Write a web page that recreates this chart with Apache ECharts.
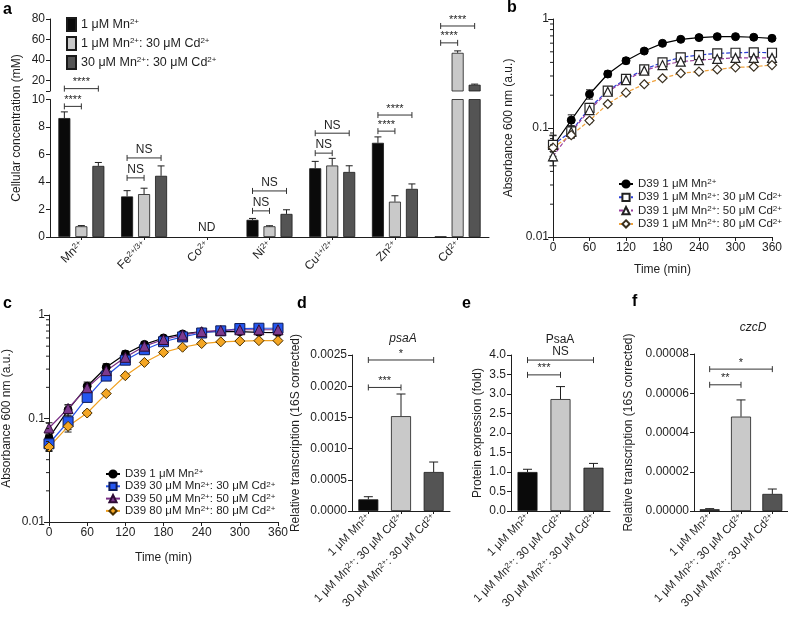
<!DOCTYPE html>
<html>
<head>
<meta charset="utf-8">
<script src="https://cdn.jsdelivr.net/npm/echarts@6/dist/echarts.min.js"></script>
<style>
  html, body { margin: 0; padding: 0; background: #fff; }
  #main { width: 788px; height: 617px; }
</style>
</head>
<body>
<div id="main"></div>
<script>
// ---------- panel a : cellular metal content ----------
var aCats = ['Mn2+', 'Fe2+/3+', 'Co2+', 'Ni2+', 'Cu1+/2+', 'Zn2+', 'Cd2+'];
var aNames = ['1 μM Mn2+', '1 μM Mn2+: 30 μM Cd2+', '30 μM Mn2+: 30 μM Cd2+'];
var aMn1 = [8.65, 2.95, null, 1.25, 5.0, 6.85, 0.03];
var aMn1Cd = [0.78, 3.12, null, 0.78, 5.2, 2.57, 47.1];
var aMn30Cd = [5.17, 4.45, null, 1.68, 4.73, 3.5, 16.1];
var aMn1Sd = [0.45, 0.42, null, 0.1, 0.5, 0.43, 0];
var aMn1CdSd = [0.05, 0.43, null, 0.04, 0.52, 0.43, 1.9];
var aMn30CdSd = [0.25, 0.72, null, 0.3, 0.45, 0.36, 0.6];
var aLowTicks = [0, 10, 2];
var aHighLabels = [20, 40, 60, 80];
// [category, from bar, to bar, height, text]
var aSigLow = [[0, 0, 1, 9.5, '****'], [1, 0, 1, 4.3, 'NS'], [1, 0, 2, 5.75, 'NS'],
  [3, 0, 1, 1.9, 'NS'], [3, 0, 2, 3.35, 'NS'], [4, 0, 1, 6.1, 'NS'], [4, 0, 2, 7.55, 'NS'],
  [5, 0, 1, 7.7, '****'], [5, 0, 2, 8.87, '****']];
var aSigHigh = [[0, 0, 2, 12.3, '****'], [6, 0, 1, 56.8, '****'], [6, 0, 2, 73.2, '****']];
var aNotes = [[2, 0.65, 'ND']];

// ---------- panels b, c : growth curves ----------
var times = [0, 30, 60, 90, 120, 150, 180, 210, 240, 270, 300, 330, 360];
var bLabels = ['D39 1 μM Mn2+', 'D39 1 μM Mn2+: 30 μM Cd2+', 'D39 1 μM Mn2+: 50 μM Cd2+', 'D39 1 μM Mn2+: 80 μM Cd2+'];
var bMn = [0.068, 0.118, 0.204, 0.313, 0.414, 0.508, 0.598, 0.651, 0.675, 0.689, 0.689, 0.68, 0.665];
var bCd30 = [0.07, 0.093, 0.153, 0.22, 0.282, 0.345, 0.40, 0.445, 0.467, 0.484, 0.49, 0.495, 0.49];
var bCd50 = [0.055, 0.092, 0.146, 0.215, 0.275, 0.336, 0.378, 0.406, 0.42, 0.43, 0.44, 0.44, 0.44];
var bCd80 = [0.066, 0.086, 0.117, 0.166, 0.211, 0.252, 0.286, 0.318, 0.329, 0.345, 0.36, 0.365, 0.378];
var bMnSd = [0.018, 0.014, 0.02, 0.02, 0.025, 0.025, 0.02, 0.02, 0.02, 0.02, 0.02, 0.02, 0.02];
var bCd30Sd = [0.015, 0.012, 0.015, 0.015, 0.015, 0.015, 0.015, 0.015, 0.015, 0.015, 0.015, 0.015, 0.015];
var bCd50Sd = [0.01, 0.01, 0.01, 0.01, 0.01, 0.01, 0.01, 0.01, 0.01, 0.01, 0.01, 0.01, 0.01];
var bCd80Sd = [0.005, 0.005, 0.005, 0.005, 0.005, 0.005, 0.005, 0.005, 0.005, 0.005, 0.005, 0.005, 0.005];

var cLabels = ['D39 1 μM Mn2+', 'D39 30 μM Mn2+: 30 μM Cd2+', 'D39 50 μM Mn2+: 50 μM Cd2+', 'D39 80 μM Mn2+: 80 μM Cd2+'];
var cMn = [0.065, 0.121, 0.205, 0.313, 0.42, 0.52, 0.60, 0.656, 0.69, 0.69, 0.69, 0.68, 0.676];
var cCd30 = [0.057, 0.093, 0.16, 0.257, 0.366, 0.462, 0.552, 0.614, 0.67, 0.703, 0.74, 0.745, 0.745];
var cCd50 = [0.081, 0.125, 0.198, 0.29, 0.39, 0.5, 0.58, 0.64, 0.69, 0.71, 0.72, 0.72, 0.72];
var cCd80 = [0.053, 0.084, 0.113, 0.174, 0.259, 0.348, 0.435, 0.488, 0.53, 0.55, 0.56, 0.565, 0.565];
var cMnSd = [0.005, 0.015, 0.02, 0.025, 0.03, 0.03, 0.02, 0.02, 0.02, 0.02, 0.02, 0.02, 0.02];
var cCd30Sd = [0.008, 0.015, 0.015, 0.02, 0.02, 0.02, 0.02, 0.02, 0.02, 0.02, 0.02, 0.02, 0.02];
var cCd50Sd = [0.01, 0.01, 0.01, 0.01, 0.01, 0.01, 0.01, 0.01, 0.01, 0.01, 0.01, 0.01, 0.01];
var cCd80Sd = [0.005, 0.01, 0.005, 0.005, 0.005, 0.005, 0.005, 0.005, 0.005, 0.005, 0.005, 0.005, 0.005];
var logMinor = [0.02, 0.03, 0.04, 0.05, 0.06, 0.07, 0.08, 0.09, 0.2, 0.3, 0.4, 0.5, 0.6, 0.7, 0.8, 0.9];

// ---------- panels d, e, f : expression ----------
var defCats = ['1 μM Mn2+', '1 μM Mn2+: 30 μM Cd2+', '30 μM Mn2+: 30 μM Cd2+'];
var dPsaA = [0.000187, 0.00152, 0.000625];
var dPsaASd = [0.000042, 0.000355, 0.00016];
var dSig = [[0, 1, 0.00198, '***'], [0, 2, 0.00242, '*']];
var ePsaA = [1.0, 2.87, 1.11];
var ePsaASd = [0.07, 0.32, 0.11];
var eSig = [[0, 1, 3.49, '***'], [0, 2, 3.87, 'NS']];
var fCzcD = [0.0000009, 0.0000481, 0.0000087];
var fCzcDSd = [0.0000003, 0.0000085, 0.0000025];
var fSig = [[0, 1, 0.0000643, '**'], [0, 2, 0.0000723, '*']];

var FONT = "'Liberation Sans', Arial, Helvetica, sans-serif";
var INK = '#1e1e1e';
var barColors = ['#0a0a0a', '#c9c9c9', '#545454'];
var BW = 12, BG = 5;

function supRich(lh) { return { s: { fontSize: 8, verticalAlign: 'top', lineHeight: lh, fontFamily: FONT, color: INK } }; }
function supText(t) { return String(t).replace(/(\d\+(?:\/\d\+)?)/g, '{s|$1}'); }
function aOff(k) { return (k - 1) * (BW + BG); }

function lineSt() { return { show: true, lineStyle: { color: INK, width: 1 } }; }
function tickSt(len, extra) { return Object.assign({ show: true, length: len, lineStyle: { color: INK, width: 1 } }, extra || {}); }
function labelSt(extra) { return Object.assign({ color: INK, fontSize: 12, fontFamily: FONT }, extra || {}); }
var nameSt = { color: INK, fontSize: 12, fontFamily: FONT };

// vertical error bars; offFn shifts grouped bars
function errRender(offFn, both, cap) {
  return function (params, api) {
    var x = api.value(0), m = api.value(1), sd = api.value(2), k = api.value(3);
    if (!(sd > 0) || m == null || isNaN(m)) return;
    var top = api.coord([x, m + sd]);
    var bot = api.coord([x, both ? m - sd : m]);
    var px = top[0] + (offFn ? offFn(k) : 0);
    var st = { stroke: INK, lineWidth: 1 };
    var kids = [
      { type: 'line', shape: { x1: px, y1: bot[1], x2: px, y2: top[1] }, style: st },
      { type: 'line', shape: { x1: px - cap, y1: top[1], x2: px + cap, y2: top[1] }, style: st }
    ];
    if (both) kids.push({ type: 'line', shape: { x1: px - cap, y1: bot[1], x2: px + cap, y2: bot[1] }, style: st });
    return { type: 'group', children: kids };
  };
}

// significance bracket between two bars
function sigRender(rows, offFn) {
  return function (params, api) {
    var r = rows[params.dataIndex];
    var p1 = api.coord([r.c1, r.h]), p2 = api.coord([r.c2, r.h]);
    var x1 = p1[0] + offFn(r.b1), x2 = p2[0] + offFn(r.b2), y = p1[1];
    var st = { stroke: '#333', lineWidth: 1 };
    var star = r.text.indexOf('*') >= 0;
    return {
      type: 'group', children: [
        { type: 'line', shape: { x1: x1, y1: y, x2: x2, y2: y }, style: st },
        { type: 'line', shape: { x1: x1, y1: y - 3, x2: x1, y2: y + 3 }, style: st },
        { type: 'line', shape: { x1: x2, y1: y - 3, x2: x2, y2: y + 3 }, style: st },
        { type: 'text', x: (x1 + x2) / 2, y: y - (star ? 1 : 2), style: {
          text: r.text, align: 'center', verticalAlign: 'bottom',
          fontSize: star ? 11 : 12, fontFamily: FONT, fill: INK } }
      ]
    };
  };
}
function zero() { return 0; }

function aSigSeries(src, xi, yi) {
  var rows = src.map(function (s) { return { c1: s[0], c2: s[0], b1: s[1], b2: s[2], h: s[3], text: s[4] }; });
  return { type: 'custom', xAxisIndex: xi, yAxisIndex: yi, clip: false, z: 5, encode: { x: 0, y: 1 },
    renderItem: sigRender(rows, aOff), data: src.map(function (s) { return [s[0], s[3]]; }) };
}
function defSigSeries(src, idx) {
  var rows = src.map(function (s) { return { c1: s[0], c2: s[1], b1: 0, b2: 0, h: s[2], text: s[3] }; });
  return { type: 'custom', xAxisIndex: idx, yAxisIndex: idx, clip: false, z: 5, encode: { x: 0, y: 1 },
    renderItem: sigRender(rows, zero), data: src.map(function (s) { return [s[0], s[2]]; }) };
}

var aVals = [aMn1, aMn1Cd, aMn30Cd];
var aSds = [aMn1Sd, aMn1CdSd, aMn30CdSd];
var aErrData = [];
aVals.forEach(function (arr, k) {
  arr.forEach(function (v, i) { if (v != null) aErrData.push([i, v, aSds[k][i], k]); });
});

var series = [];
// panel a bars, lower and upper part of the broken axis
[0, 1].forEach(function (g) {
  aVals.forEach(function (arr, k) {
    series.push({
      type: 'bar', name: g === 0 ? 'a' + k : 'aU' + k, xAxisIndex: g, yAxisIndex: g,
      data: arr, barWidth: BW, barGap: (BG / BW * 100) + '%', clip: true,
      itemStyle: { color: barColors[k], borderColor: '#1a1a1a', borderWidth: 0.8 }
    });
  });
  series.push({ type: 'custom', xAxisIndex: g, yAxisIndex: g, clip: true, z: 4,
    encode: { x: 0, y: 1 }, renderItem: errRender(aOff, false, 3.5), data: aErrData });
});
series.push(aSigSeries(aSigLow, 0, 0));
series.push(aSigSeries(aSigHigh, 1, 1));
series.push({ type: 'custom', xAxisIndex: 0, yAxisIndex: 0, clip: false, encode: { x: 0, y: 1 },
  data: aNotes.map(function (n) { return [n[0], n[1]]; }),
  renderItem: function (params, api) {
    var p = api.coord([api.value(0), api.value(1)]);
    return { type: 'text', x: p[0], y: p[1], style: { text: aNotes[params.dataIndex][2],
      align: 'center', verticalAlign: 'middle', fontSize: 12, fontFamily: FONT, fill: INK } };
  } });

// growth curves
function growth(prefix, idx, sets) {
  sets.forEach(function (s, k) {
    series.push({
      type: 'custom', xAxisIndex: idx, yAxisIndex: idx, clip: false, z: 1,
      encode: { x: 0, y: 1 }, renderItem: errRender(null, true, 3.5),
      data: times.map(function (t, i) { return [t, s.v[i], s.sd[i]]; })
    });
    series.push({
      type: 'line', name: prefix + k, xAxisIndex: idx, yAxisIndex: idx, z: 3,
      data: times.map(function (t, i) { return [t, s.v[i]]; }),
      symbol: s.sym, symbolSize: s.size, showAllSymbol: true,
      lineStyle: { color: s.line, width: 1.2, type: s.dash ? [4, 2] : 'solid' },
      itemStyle: { color: s.fill, borderColor: s.border, borderWidth: s.bw }
    });
  });
  // minor ticks of the log axis
  series.push({
    type: 'custom', xAxisIndex: idx, yAxisIndex: idx, clip: false, z: 6, encode: { x: 0, y: 1 },
    data: logMinor.map(function (v) { return [0, v]; }),
    renderItem: function (params, api) {
      var p = api.coord([api.value(0), api.value(1)]);
      return { type: 'line', shape: { x1: p[0] - 3, y1: p[1], x2: p[0], y2: p[1] }, style: { stroke: INK, lineWidth: 1 } };
    }
  });
}
growth('b', 2, [
  { v: bMn, sd: bMnSd, sym: 'circle', size: 8, line: '#000', fill: '#000', border: '#000', bw: 1, dash: false },
  { v: bCd30, sd: bCd30Sd, sym: 'rect', size: 9, line: '#2b3fd6', fill: '#fff', border: '#222', bw: 1.2, dash: true },
  { v: bCd50, sd: bCd50Sd, sym: 'triangle', size: 9, line: '#9a3e9e', fill: '#fff', border: '#222', bw: 1.2, dash: true },
  { v: bCd80, sd: bCd80Sd, sym: 'diamond', size: 9, line: '#f0a23c', fill: '#fff', border: '#3a3020', bw: 1.2, dash: true }
]);
growth('c', 3, [
  { v: cMn, sd: cMnSd, sym: 'circle', size: 8, line: '#000', fill: '#000', border: '#000', bw: 1, dash: false },
  { v: cCd30, sd: cCd30Sd, sym: 'rect', size: 10, line: '#2452e6', fill: '#2457f0', border: '#0d1a55', bw: 1, dash: false },
  { v: cCd50, sd: cCd50Sd, sym: 'triangle', size: 10, line: '#7a2f86', fill: '#7d3a8e', border: '#2e0c36', bw: 1, dash: false },
  { v: cCd80, sd: cCd80Sd, sym: 'diamond', size: 10, line: '#f0a020', fill: '#f4a623', border: '#4a3000', bw: 1, dash: false }
]);

// d, e, f bars
[[4, dPsaA, dPsaASd, dSig], [5, ePsaA, ePsaASd, eSig], [6, fCzcD, fCzcDSd, fSig]].forEach(function (p) {
  var idx = p[0];
  series.push({
    type: 'bar', xAxisIndex: idx, yAxisIndex: idx, data: p[1], barWidth: 20,
    itemStyle: { color: function (q) { return barColors[q.dataIndex]; }, borderColor: '#1a1a1a', borderWidth: 0.8 }
  });
  series.push({ type: 'custom', xAxisIndex: idx, yAxisIndex: idx, clip: false, z: 4,
    encode: { x: 0, y: 1 }, renderItem: errRender(null, false, 4.5),
    data: p[1].map(function (v, i) { return [i, v, p[2][i]]; }) });
  series.push(defSigSeries(p[3], idx));
});

function catAxis(grid, data, extra) {
  return Object.assign({
    type: 'category', gridIndex: grid, data: data,
    axisLine: lineSt(), axisTick: tickSt(3, { alignWithLabel: true }),
    axisLabel: labelSt({ rotate: 45, margin: 5, formatter: supText, rich: supRich(12) }),
    splitLine: { show: false }
  }, extra || {});
}
function timeAxis(grid, gap) {
  return { type: 'value', gridIndex: grid, min: 0, max: 360, interval: 60,
    name: 'Time (min)', nameLocation: 'middle', nameGap: gap, nameTextStyle: nameSt,
    axisLine: lineSt(), axisTick: tickSt(4), axisLabel: labelSt({ margin: 5 }), splitLine: { show: false } };
}
function valAxis(grid, o) {
  return Object.assign({ type: 'value', gridIndex: grid, axisLine: lineSt(), axisTick: tickSt(4),
    splitLine: { show: false }, nameLocation: 'middle', nameTextStyle: nameSt }, o);
}
function logAxis(grid, gap) {
  return valAxis(grid, { type: 'log', logBase: 10, min: 0.01, max: 1, name: 'Absorbance 600 nm (a.u.)', nameGap: gap,
    axisTick: tickSt(5), axisLabel: labelSt({ margin: 4 }) });
}
function defLabel() {
  return labelSt({ rotate: 45, margin: 5, fontSize: 11.5, formatter: supText, rich: supRich(12) });
}

function legendText(fs, lh) {
  return { color: INK, fontSize: fs, lineHeight: lh, fontFamily: FONT, rich: supRich(lh) };
}
function legendFmt(labels) {
  return function (name) { return supText(labels[+name.slice(1)]); };
}

var option = {
  animation: false,
  backgroundColor: '#fff',
  grid: [
    { left: 50, top: 99.5, width: 439, height: 137.5 },
    { left: 50, top: 19, width: 439, height: 72 },
    { left: 553, top: 19, width: 219, height: 218 },
    { left: 49, top: 315, width: 229, height: 207 },
    { left: 352, top: 355, width: 98, height: 156 },
    { left: 511, top: 355, width: 99, height: 156 },
    { left: 694, top: 354, width: 94, height: 157 }
  ].map(function (g) { g.outerBoundsMode = 'none'; g.containLabel = false; return g; }),
  xAxis: [
    catAxis(0, aCats, { axisLabel: labelSt({ rotate: 45, margin: 6, formatter: supText, rich: supRich(12) }) }),
    catAxis(1, aCats, { show: false }),
    timeAxis(2, 27),
    timeAxis(3, 30),
    catAxis(4, defCats, { axisLabel: defLabel() }),
    catAxis(5, defCats, { axisLabel: defLabel() }),
    catAxis(6, defCats, { axisLabel: defLabel() })
  ],
  yAxis: [
    valAxis(0, { min: aLowTicks[0], max: aLowTicks[1], interval: aLowTicks[2], axisLabel: labelSt({ margin: 5 }) }),
    valAxis(1, { min: 10, max: 80, axisLabel: labelSt({ margin: 5, customValues: aHighLabels }),
      axisTick: tickSt(4, { customValues: [10].concat(aHighLabels) }) }),
    logAxis(2, 38),
    logAxis(3, 36),
    valAxis(4, { min: 0, max: 0.0025, interval: 0.0005, name: 'Relative transcription (16S corrected)', nameGap: 50,
      axisLabel: labelSt({ margin: 5, formatter: function (v) { return v.toFixed(4); } }) }),
    valAxis(5, { min: 0, max: 4, interval: 0.5, name: 'Protein expression (fold)', nameGap: 27,
      axisLabel: labelSt({ margin: 5, formatter: function (v) { return v.toFixed(1); } }) }),
    valAxis(6, { min: 0, max: 0.00008, interval: 0.00002, name: 'Relative transcription (16S corrected)', nameGap: 59,
      axisLabel: labelSt({ margin: 5, formatter: function (v) { return v.toFixed(5); } }) })
  ],
  legend: [
    { data: ['a0', 'a1', 'a2'], left: 61, top: 12, orient: 'vertical', itemWidth: 9, itemHeight: 13, itemGap: 4,
      icon: 'rect', selectedMode: false, formatter: legendFmt(aNames), textStyle: legendText(12.5, 13) },
    { data: ['b0', 'b1', 'b2', 'b3'], left: 613, top: 173, orient: 'vertical', itemWidth: 14, itemHeight: 9, itemGap: 1.3,
      selectedMode: false, formatter: legendFmt(bLabels), textStyle: legendText(11.5, 12) },
    { data: ['c0', 'c1', 'c2', 'c3'], left: 100, top: 463, orient: 'vertical', itemWidth: 14, itemHeight: 9, itemGap: 0.3,
      selectedMode: false, formatter: legendFmt(cLabels), textStyle: legendText(11.5, 12) }
  ],
  graphic: [
    { type: 'text', x: 3, y: 2, style: { text: 'a', font: 'bold 16px ' + FONT, fill: '#000' } },
    { type: 'text', x: 507, y: 0, style: { text: 'b', font: 'bold 16px ' + FONT, fill: '#000' } },
    { type: 'text', x: 3, y: 296, style: { text: 'c', font: 'bold 16px ' + FONT, fill: '#000' } },
    { type: 'text', x: 297, y: 296, style: { text: 'd', font: 'bold 16px ' + FONT, fill: '#000' } },
    { type: 'text', x: 462, y: 296, style: { text: 'e', font: 'bold 16px ' + FONT, fill: '#000' } },
    { type: 'text', x: 632, y: 294, style: { text: 'f', font: 'bold 16px ' + FONT, fill: '#000' } },
    { type: 'text', x: 403, y: 339, style: { text: 'psaA', font: 'italic 12px ' + FONT, fill: INK, align: 'center', verticalAlign: 'middle' } },
    { type: 'text', x: 560, y: 340, style: { text: 'PsaA', font: '12px ' + FONT, fill: INK, align: 'center', verticalAlign: 'middle' } },
    { type: 'text', x: 753, y: 328, style: { text: 'czcD', font: 'italic 12px ' + FONT, fill: INK, align: 'center', verticalAlign: 'middle' } },
    { type: 'text', x: 17, y: 128, rotation: Math.PI / 2,
      style: { text: 'Cellular concentration (mM)', font: '12px ' + FONT, fill: INK, align: 'center', verticalAlign: 'middle' } }
  ],
  series: series
};

var chart = echarts.init(document.getElementById('main'), null, { renderer: 'canvas' });
chart.setOption(option);
</script>
</body>
</html>
